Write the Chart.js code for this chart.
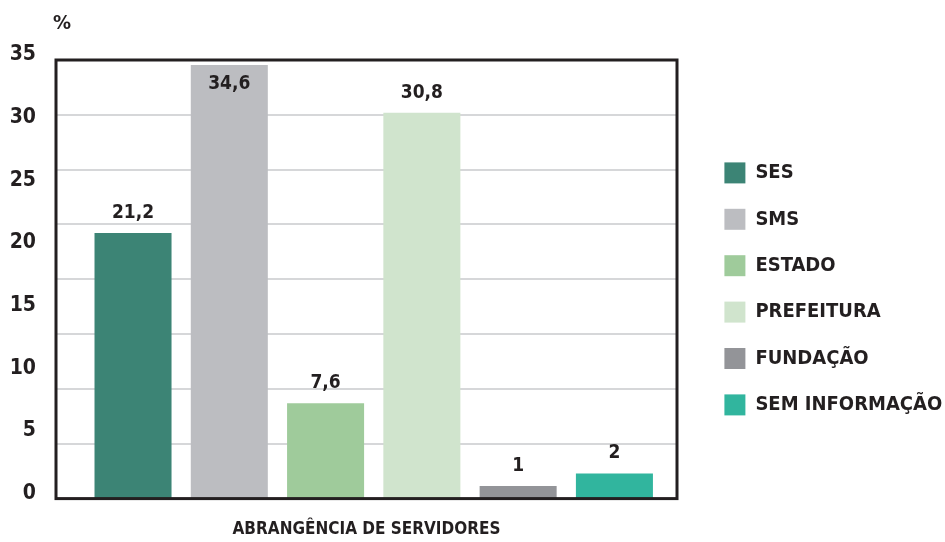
<!DOCTYPE html>
<html>
<head>
<meta charset="utf-8">
<script src="https://cdn.jsdelivr.net/npm/chart.js@4.4.1/dist/chart.umd.min.js"></script>
<style>
  html, body { margin: 0; padding: 0; background: #fff; }
  #wrap { width: 945px; height: 542px; }
</style>
</head>
<body>
<div id="wrap"><canvas id="chartCanvas"></canvas></div>
<script>
let categories = ['SES', 'SMS', 'ESTADO', 'PREFEITURA', 'FUNDAÇÃO', 'SEM INFORMAÇÃO'];
let values = [21.2, 34.6, 7.6, 30.8, 1, 2];
let colors = ['#3c8475', '#bcbdc1', '#9fcb9b', '#d0e4cd', '#939498', '#31b59e'];
let yTicks = [0, 5, 10, 15, 20, 25, 30, 35];
let xTitle = 'ABRANGÊNCIA DE SERVIDORES';
let unitLabel = '%';

let font = "'DejaVu Sans Condensed', 'DejaVu Sans', sans-serif";
let ink = '#231f20';

// frame, unit label and value labels
let extras = {
    id: 'extras',
    afterDatasetsDraw(chart) {
        let ctx = chart.ctx;
        let area = chart.chartArea;
        ctx.save();
        ctx.strokeStyle = ink;
        ctx.lineWidth = 3;
        ctx.strokeRect(area.left, area.top, area.right - area.left, area.bottom - area.top);

        ctx.fillStyle = ink;
        ctx.font = 'bold 20px ' + font;
        ctx.textAlign = 'center';
        ctx.textBaseline = 'middle';
        ctx.fillText(unitLabel, area.left + 6, area.top - 36);

        ctx.font = 'bold 19px ' + font;
        let meta = chart.getDatasetMeta(0);
        meta.data.forEach((bar, i) => {
            let txt = String(values[i]).replace('.', ',');
            let y = bar.y - 20;
            if (y < area.top + 10) y = bar.y + 19;
            ctx.fillText(txt, bar.x, y);
        });
        ctx.restore();
    }
};

let mychart = document.getElementById('chartCanvas').getContext('2d');
let chart = new Chart(mychart, {
    type: 'bar',
    data: {
        datasets: [{
            data: categories.map((c, i) => ({ x: i, y: values[i] })),
            backgroundColor: colors,
            categoryPercentage: 1,
            barPercentage: 0.8
        }]
    },
    options: {
        responsive: true,
        maintainAspectRatio: false,
        animation: false,
        layout: { padding: { left: 10, right: 0, top: 60, bottom: 2 } },
        plugins: {
            tooltip: { enabled: false },
            legend: {
                position: 'right',
                align: 'start',
                maxWidth: 246,
                title: {
                    display: true,
                    text: ' ',
                    font: { size: 10 },
                    padding: { top: 65, bottom: 0 }
                },
                labels: {
                    boxWidth: 21,
                    boxHeight: 21,
                    padding: 25.4,
                    color: ink,
                    font: { family: font, size: 20, weight: 'bold' },
                    generateLabels: () => categories.map((c, i) => ({
                        text: c,
                        fillStyle: colors[i],
                        strokeStyle: colors[i],
                        lineWidth: 0,
                        fontColor: ink,
                        index: i
                    }))
                }
            }
        },
        scales: {
            x: {
                type: 'linear',
                offset: false,
                min: -0.8,
                max: 5.65,
                afterBuildTicks: (axis) => { axis.ticks = categories.map((c, i) => ({ value: i })); },
                grid: { display: false, drawTicks: false },
                border: { display: false },
                ticks: { display: false },
                title: {
                    display: true,
                    text: xTitle,
                    color: ink,
                    font: { family: font, size: 17, weight: 'bold' },
                    padding: { top: 21, bottom: 0 }
                }
            },
            y: {
                min: 0,
                max: 35,
                afterBuildTicks: (axis) => { axis.ticks = yTicks.map(v => ({ value: v })); },
                afterFit: (axis) => { axis.width = 46; },
                grid: { display: false, drawTicks: false },
                border: { display: false },
                ticks: {
                    color: ink,
                    padding: 20,
                    labelOffset: -5,
                    font: { family: font, size: 21, weight: 'bold' }
                }
            },
            grid8: {
                position: 'right',
                min: 0,
                max: 8,
                afterFit: (axis) => { axis.width = 22; },
                ticks: { display: false, stepSize: 1 },
                border: { display: false },
                grid: { color: '#d6d7d9', lineWidth: 2, drawTicks: false }
            }
        }
    },
    plugins: [extras]
});
</script>
</body>
</html>
